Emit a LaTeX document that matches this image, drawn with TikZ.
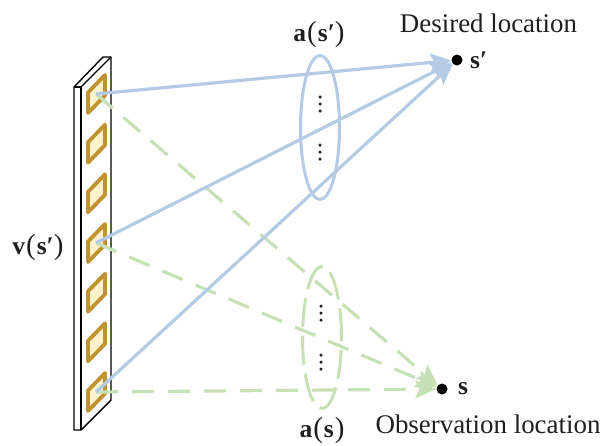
\documentclass[tikz,border=0pt]{standalone}
\usepackage{fontspec}
\setmainfont{Liberation Serif}
\usetikzlibrary{arrows.meta,shapes.geometric}
\definecolor{bl}{HTML}{B4CAE5}
\definecolor{gr}{HTML}{C6E1B6}
\definecolor{gold}{HTML}{BF9430}
\definecolor{pale}{HTML}{FFF2CC}
\tikzset{
 x=1pt,y=-1pt,
 txt/.style={font=\fontsize{26.9}{27}\selectfont,text=black!88,inner sep=0pt},
 lab/.style={font=\fontsize{25.5}{25}\selectfont\bfseries,text=black!88,inner sep=0pt},
 blueline/.style={draw=bl,line width=3.2pt,-{Stealth[length=21pt,width=18pt,inset=4pt]}},
 greenline/.style={draw=gr,line width=3.2pt,dash pattern=on 22pt off 14pt,-{Stealth[length=21pt,width=18pt,inset=4pt]}},
 dot/.style={circle,fill=black,inner sep=0pt,minimum size=11pt},
 blueell/.style={ellipse,draw=bl,line width=3pt,minimum width=39pt,minimum height=144pt,inner sep=0pt},
 greenell/.style={ellipse,draw=gr,line width=3pt,dash pattern=on 29pt off 9pt,minimum width=39pt,minimum height=142pt,inner sep=0pt},
 edge/.style={draw=black,line width=1.4pt,line join=round},
 patch/.style={draw=gold,fill=pale,line width=3.8pt,line join=round},
 tiny/.style={circle,fill=black!85,inner sep=0pt,minimum size=3.5pt},
}
\newcommand{\vdotsat}[2]{%
 \node[tiny] at (#1,#2-7) {};
 \node[tiny] at (#1,#2) {};
 \node[tiny] at (#1,#2+7) {};}
\newcommand{\patchat}[1]{%
 \draw[patch] (105,#1-19) -- (105,#1+1.5) -- (88,#1+19) -- (88,#1-1.5) -- cycle;}
\newcommand{\paren}[1]{{\fontsize{29}{29}\selectfont\mdseries #1}}
\begin{document}
\begin{tikzpicture}
\useasboundingbox (0,0) rectangle (610,445);
% panel
\draw[edge,fill=white] (74,87) -- (103,57) -- (111,57) -- (111,400) -- (81,430) -- (74,430) -- cycle;
\draw[edge] (81,87) -- (111,57);
\draw[edge] (74,87) -- (81,87) -- (81,430);
% patches
\foreach \y in {94,143.7,193.3,243,292.7,342.3,392} {\patchat{\y}}
% ellipses
\node[blueell] (ea) at (320,127.5) {};
\node[greenell] (eb) at (322,337.5) {};
% dots
\vdotsat{320}{104}
\vdotsat{320}{152}
\vdotsat{321}{313}
\vdotsat{321}{362}
% end points
\node[dot] (sp) at (457,60) {};
\node[dot] (so) at (442,389) {};
\coordinate (e1) at (96,94);
\coordinate (e2) at (96,243);
\coordinate (e3) at (96,392);
% connectors
\draw[greenline] (e1) -- (so);
\draw[greenline] (e2) -- (so);
\draw[greenline] (e3) -- (so);
\draw[blueline] (e1) -- (sp);
\draw[blueline] (e2) -- (sp);
\draw[blueline] (e3) -- (sp);
% labels
\node[txt] (d) at (488.5,23) {Desired location};
\node[txt] (o) at (488,424) {Observation location};
\node[lab,anchor=west] (ls) at (470,60) {s′};
\node[lab,anchor=west] (lo) at (458,389) {s};
\node[lab] (la) at (319,35) {a\kern1pt\paren{(}\kern1pt s′\paren{)}};
\node[lab] (lb) at (322,431) {a\kern1pt\paren{(}\kern1pt s\kern1pt\paren{)}};
\node[lab] (lv) at (38,248) {v\kern1pt\paren{(}\kern1pt s′\paren{)}};
\end{tikzpicture}
\end{document}
